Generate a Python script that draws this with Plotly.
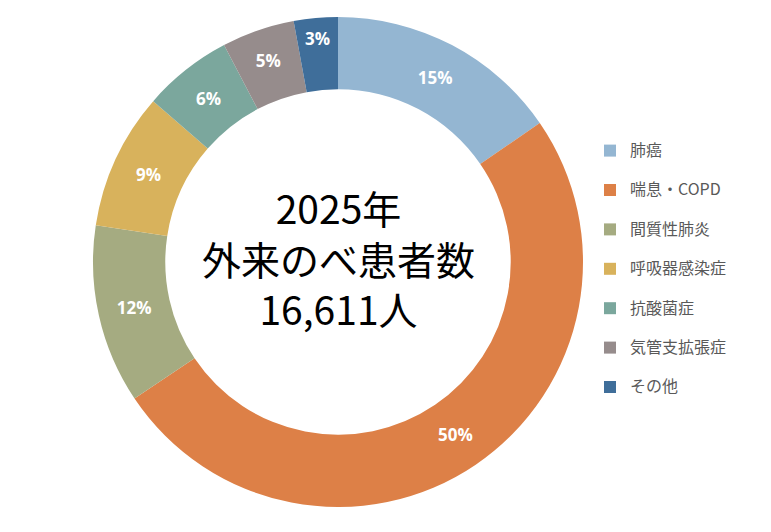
import plotly.graph_objects as go

# categories and estimated shares (%) read off the donut
categories = ['肺癌', '喘息・COPD', '間質性肺炎', '呼吸器感染症', '抗酸菌症', '気管支拡張症', 'その他']
shares = [15.4, 50.2, 11.8, 9.0, 5.9, 4.8, 2.9]
colors = ['#94B6D2', '#DD8047', '#A5AB81', '#D8B25C', '#7BA79D', '#968C8C', '#3F6E9A']

center_lines = ['2025年', '外来のべ患者数', '16,611人']

# the page body has an 8px margin, so the figure is a bit smaller than the window
OFF = 8
W, H = 771 - OFF, 532 - OFF


def px_x(x):
    return (x - OFF) / W


def px_y(y):
    return (H - (y - OFF)) / H


# second blank line in each legend label gives Excel-like row spacing;
# the visible text is drawn a bit larger than the layout font
legend_labels = ['<span style="font-size:16px">' + c + '</span><br> ' for c in categories]

fig = go.Figure(go.Pie(
    labels=legend_labels,
    values=shares,
    hole=0.705,
    sort=False,
    direction='clockwise',
    rotation=0,
    marker=dict(colors=colors, line=dict(width=0)),
    texttemplate='%{percent:.0%}',
    textposition='inside',
    insidetextorientation='horizontal',
    textfont=dict(family='Open Sans', size=17, color='white', weight='bold'),
    hoverinfo='skip',
    domain=dict(x=[px_x(93), px_x(583)], y=[px_y(507), px_y(17)]),
))

fig.add_annotation(
    text='<br>'.join(center_lines),
    x=px_x(338), y=px_y(258), xref='paper', yref='paper',
    xanchor='center', yanchor='middle', showarrow=False,
    font=dict(family='Noto Sans CJK JP', size=39, color='black'),
)

fig.update_layout(
    width=W, height=H,
    margin=dict(l=0, r=0, t=0, b=0),
    paper_bgcolor='white',
    plot_bgcolor='white',
    showlegend=True,
    legend=dict(
        x=px_x(590), xanchor='left',
        y=px_y(135), yanchor='top',
        valign='top',
        itemwidth=30,
        font=dict(family='Noto Sans CJK JP', size=14, color='#595959'),
        bgcolor='rgba(0,0,0,0)',
    ),
)

fig.write_html("out.html")
